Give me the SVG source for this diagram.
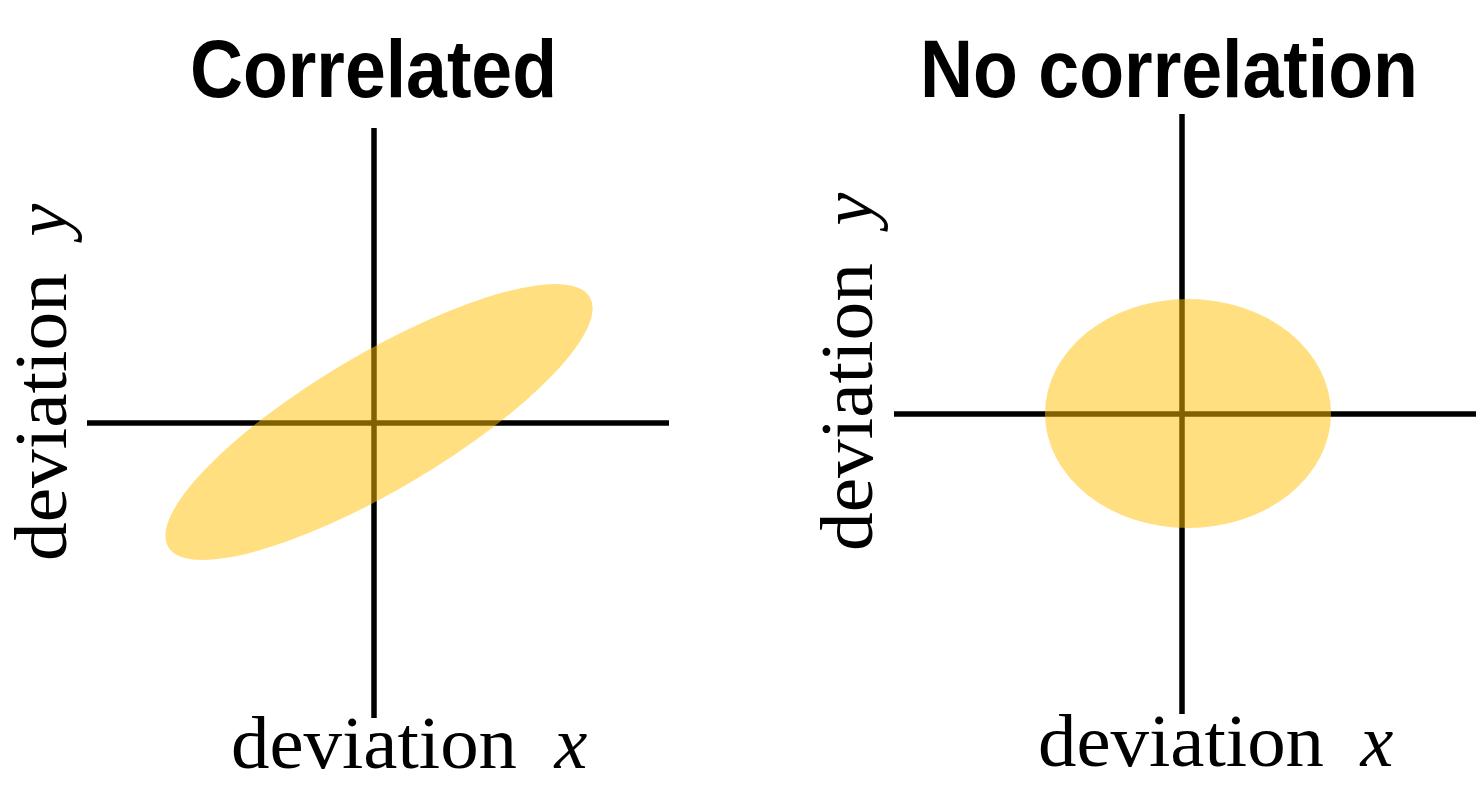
<svg xmlns="http://www.w3.org/2000/svg" width="1476" height="785" viewBox="0 0 1476 785">
<style>
.title{font-family:"Liberation Sans",Arial,sans-serif;font-weight:bold;font-size:81px;fill:#000}
.lab{font-family:"Liberation Serif","Times New Roman",serif;font-size:74px;fill:#000}
.it{font-style:italic}
.axis{stroke:#000;stroke-width:5.5;fill:none}
.blob{fill:#FFC000;fill-opacity:0.5}
</style>
<rect width="1476" height="785" fill="#fff"/>
<g id="panel-correlated">
  <text class="title" x="190" y="97" textLength="367" lengthAdjust="spacingAndGlyphs">Correlated</text>
  <g id="axes-left">
    <line class="axis" x1="374" y1="128" x2="374" y2="718"/>
    <line class="axis" x1="87" y1="423" x2="669" y2="423"/>
  </g>
  <ellipse id="ellipse-correlated" class="blob" cx="379" cy="422" rx="245" ry="68" transform="rotate(-30.65 379 422)"/>
  <text class="lab" x="231" y="768"><tspan textLength="286" lengthAdjust="spacingAndGlyphs">deviation</tspan><tspan class="it" x="536"> x</tspan></text>
  <text class="lab" transform="translate(66 561) rotate(-90)"><tspan x="0" textLength="288" lengthAdjust="spacingAndGlyphs">deviation</tspan><tspan class="it" x="306"> y</tspan></text>
</g>
<g id="panel-nocorrelation">
  <text class="title" x="920" y="97" textLength="498" lengthAdjust="spacingAndGlyphs">No correlation</text>
  <g id="axes-right">
    <line class="axis" x1="1182" y1="114" x2="1182" y2="714"/>
    <line class="axis" x1="894" y1="414" x2="1476" y2="414"/>
  </g>
  <ellipse id="ellipse-nocorrelation" class="blob" cx="1188" cy="413.5" rx="143" ry="114.5"/>
  <text class="lab" x="1038" y="766"><tspan textLength="286" lengthAdjust="spacingAndGlyphs">deviation</tspan><tspan class="it" x="1342"> x</tspan></text>
  <text class="lab" transform="translate(872 551) rotate(-90)"><tspan x="0" textLength="288" lengthAdjust="spacingAndGlyphs">deviation</tspan><tspan class="it" x="307"> y</tspan></text>
</g>
</svg>
